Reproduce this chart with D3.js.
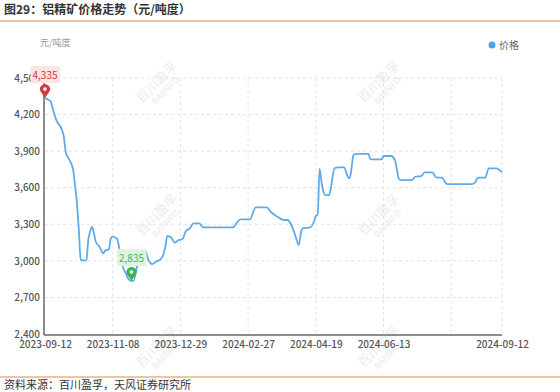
<!DOCTYPE html>
<html>
<head>
<meta charset="utf-8">
<script src="https://cdn.jsdelivr.net/npm/d3@7"></script>
<style>
  body { margin: 0; background: #fff; }
  svg { display: block; font-family: "Noto Sans CJK SC", "Noto Sans", sans-serif; }
</style>
</head>
<body>
<div id="chart"></div>
<script>
// trading-day index along the category axis, and price
const priceIdx = [0, 2, 3, 4, 6, 9, 10, 11, 12, 13, 15, 16, 17, 18, 19, 21, 22, 23, 24, 25, 26, 27, 29, 31, 32, 34, 35, 36, 38, 39, 40, 42, 43, 44, 46, 47, 49, 51, 53, 55, 57, 59, 62, 64, 65, 67, 69, 71, 73, 75, 77, 79, 82, 84, 100, 102, 104, 109, 112, 118, 120, 121, 124, 127, 129, 131, 133, 135, 136, 137, 141, 143, 144, 145, 146, 147, 148, 149, 151, 152, 153, 154, 156, 159, 161, 162, 163, 164, 166, 172, 173, 179, 180, 184, 186, 187, 188, 189, 195, 197, 200, 202, 206, 208, 211, 213, 214, 227, 229, 230, 234, 236, 240, 243];
const priceVal = [4335, 4320, 4310, 4255, 4155, 4075, 4020, 3895, 3855, 3827, 3745, 3610, 3470, 3250, 3008, 3002, 3008, 3170, 3240, 3280, 3228, 3157, 3116, 3062, 3083, 3095, 3185, 3198, 3185, 3144, 3062, 2925, 2898, 2860, 2835, 2835, 2960, 3090, 3089, 3007, 2974, 2993, 3021, 3116, 3204, 3193, 3149, 3171, 3177, 3247, 3267, 3308, 3308, 3275, 3275, 3313, 3341, 3341, 3439, 3439, 3403, 3390, 3357, 3335, 3335, 3294, 3212, 3130, 3226, 3267, 3275, 3321, 3368, 3380, 3755, 3650, 3570, 3540, 3540, 3590, 3700, 3760, 3767, 3767, 3690, 3677, 3760, 3870, 3877, 3877, 3833, 3833, 3860, 3860, 3830, 3760, 3680, 3663, 3663, 3690, 3696, 3726, 3726, 3685, 3682, 3640, 3630, 3630, 3649, 3682, 3682, 3759, 3759, 3726];

const tickIdx = [0, 36, 72, 108, 144, 180, 216, 243];
const tickLabels = ["2023-09-12", "2023-11-08", "2023-12-29", "2024-02-27", "2024-04-19", "2024-06-13", "", "2024-09-12"];
const yTicks = [2400, 2700, 3000, 3300, 3600, 3900, 4200, 4500];

const width = 560, height = 392;
const svg = d3.select("#chart").append("svg")
    .attr("width", width)
    .attr("height", height);

// title and frame lines
svg.append("text")
    .attr("x", 4).attr("y", 14)
    .attr("font-size", 12).attr("font-weight", "bold").attr("fill", "#333")
    .text("图29：铝精矿价格走势（元/吨度）");
svg.append("line").attr("x1", 0).attr("x2", width).attr("y1", 21).attr("y2", 21)
    .attr("stroke", "#e4883e").attr("stroke-width", 1.2);
svg.append("line").attr("x1", 0).attr("x2", width).attr("y1", 377).attr("y2", 377)
    .attr("stroke", "#e4883e").attr("stroke-width", 1.2);
svg.append("text")
    .attr("x", 4).attr("y", 389)
    .attr("font-size", 11).attr("fill", "#333")
    .text("资料来源：百川盈孚，天风证券研究所");

const x = d3.scaleLinear().domain([0, 243]).range([45, 502]);
const y = d3.scaleLinear().domain([2400, 4500]).range([334, 78]);

// watermarks
const marks = [[160, 85], [382, 85], [160, 218], [382, 218], [160, 350], [382, 350]];
marks.forEach(([mx, my]) => {
    const w = svg.append("g").attr("transform", `translate(${mx},${my}) rotate(-45)`)
        .attr("fill", "#ebebeb");
    w.append("text").attr("text-anchor", "middle").attr("font-size", 13).attr("y", 0).text("百川盈孚");
    w.append("text").attr("text-anchor", "middle").attr("font-size", 9).attr("y", 11).text("BAIINFO");
});

// grid
svg.append("g").selectAll("line").data(yTicks.slice(1)).enter().append("line")
    .attr("x1", 45).attr("x2", 502)
    .attr("y1", d => y(d)).attr("y2", d => y(d))
    .attr("stroke", "#e3e3e3").attr("stroke-dasharray", "3,3");
svg.append("g").selectAll("line").data(tickIdx.slice(1)).enter().append("line")
    .attr("x1", d => x(d)).attr("x2", d => x(d))
    .attr("y1", 78).attr("y2", 334)
    .attr("stroke", "#e3e3e3").attr("stroke-dasharray", "3,3");

// axes
const yAxis = svg.append("g").attr("transform", "translate(44,0)")
    .call(d3.axisLeft(y).tickValues(yTicks).tickSize(0).tickPadding(4).tickFormat(d3.format(",")));
yAxis.select(".domain").remove();
yAxis.selectAll("text").attr("font-size", 10).attr("fill", "#555").attr("font-weight", 500)
    .attr("font-family", "\"Noto Sans CJK SC\", sans-serif");

const xAxis = svg.append("g").attr("transform", "translate(0,335)")
    .call(d3.axisBottom(x).tickValues(tickIdx).tickSize(0).tickPadding(6)
        .tickFormat((d, i) => tickLabels[i]));
xAxis.select(".domain").remove();
xAxis.selectAll("text").attr("font-size", 10).attr("fill", "#555").attr("font-weight", 500)
    .attr("font-family", "\"Noto Sans CJK SC\", sans-serif");

svg.append("line").attr("x1", 44).attr("x2", 44).attr("y1", 78).attr("y2", 335)
    .attr("stroke", "#666").attr("stroke-width", 1.5);
svg.append("line").attr("x1", 44).attr("x2", 502).attr("y1", 335).attr("y2", 335)
    .attr("stroke", "#666").attr("stroke-width", 1.5);

svg.append("text").attr("x", 40).attr("y", 46)
    .attr("font-size", 9).attr("fill", "#999").text("元/吨度");

// legend
svg.append("circle").attr("cx", 492).attr("cy", 45).attr("r", 3.5).attr("fill", "#4ea1ea");
svg.append("text").attr("x", 499).attr("y", 49).attr("font-size", 10).attr("fill", "#666").text("价格");

// line
const pts = priceIdx.map((d, i) => [d, priceVal[i]]);
const line = d3.line().x(d => x(d[0])).y(d => y(d[1])).curve(d3.curveMonotoneX);
svg.append("path").datum(pts)
    .attr("d", line)
    .attr("fill", "none")
    .attr("stroke", "#5eaaea")
    .attr("stroke-width", 1.8);

// max / min pins
function pin(px, py, color, bg, txt) {
    const r = 5, cy = py - 9;
    svg.append("path")
        .attr("d", `M${px},${py} L${px - r * 0.8},${cy + r * 0.6} A${r},${r} 0 1 1 ${px + r * 0.8},${cy + r * 0.6} Z`)
        .attr("fill", color);
    svg.append("circle").attr("cx", px).attr("cy", cy).attr("r", 1.8).attr("fill", "#fff");
    const t = svg.append("text").attr("x", px).attr("y", py - 19)
        .attr("text-anchor", "middle").attr("font-size", 10).attr("fill", color).text(txt);
    const b = t.node().getBBox();
    svg.insert("rect", () => t.node())
        .attr("x", b.x - 2).attr("y", b.y - 1).attr("width", b.width + 4).attr("height", b.height + 2)
        .attr("fill", bg);
}
const maxI = d3.maxIndex(priceVal), minI = d3.minIndex(priceVal);
pin(x(priceIdx[maxI]), y(priceVal[maxI]), "#d4393e", "#fbe4e4", d3.format(",")(priceVal[maxI]));
pin(x(priceIdx[minI]), y(priceVal[minI]), "#3cb653", "#e0f3e2", d3.format(",")(priceVal[minI]));
</script>
</body>
</html>
